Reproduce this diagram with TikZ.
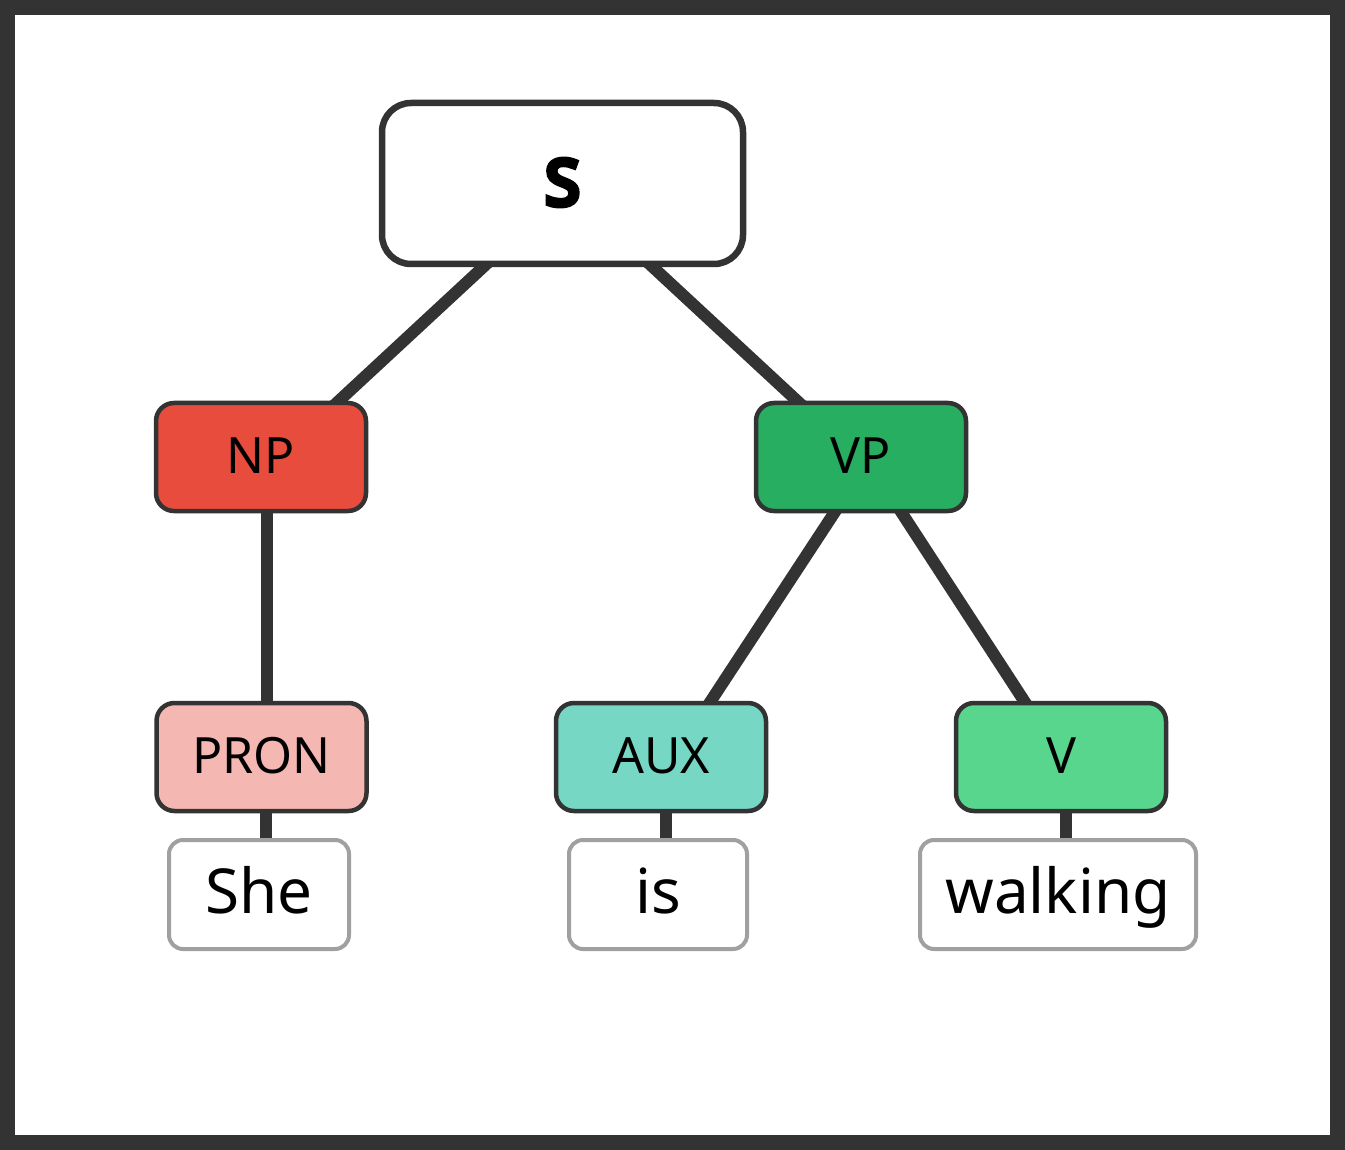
\documentclass[tikz,border=0pt]{standalone}
\usepackage{fontspec}
\setmainfont{Noto Sans}
\newfontfamily\rootfont{Noto Sans}[FakeBold=9]
\usetikzlibrary{backgrounds}
\definecolor{dark}{HTML}{333333}
\definecolor{npred}{HTML}{E74C3C}
\definecolor{vpgreen}{HTML}{27AE60}
\definecolor{pronpink}{HTML}{F5B7B1}
\definecolor{auxteal}{HTML}{76D7C4}
\definecolor{vgreen}{HTML}{58D68D}
\definecolor{leafgray}{HTML}{A0A0A0}
\tikzset{
  rootbox/.style={draw=dark, fill=white, line width=6.5pt, rounded corners=29pt,
    minimum width=361pt, minimum height=161pt, inner sep=0pt,
    font=\rootfont\fontsize{63}{70}\selectfont, text height=43pt, text depth=0pt},
  catbox/.style={draw=dark, line width=4.5pt, rounded corners=18pt,
    minimum width=210pt, minimum height=108pt, inner sep=0pt,
    font=\fontsize{50}{60}\selectfont, text height=32pt, text depth=0pt},
  leafbox/.style={draw=leafgray, fill=white, line width=4pt, rounded corners=14pt,
    minimum height=109pt, inner sep=0pt,
    font=\fontsize{62}{70}\selectfont, text height=37pt, text depth=0pt},
  link/.style={draw=dark, line width=12pt, shorten <=-10pt, shorten >=-10pt},
  frame/.style={draw=dark, line width=15pt, fill=white}
}
\begin{document}
\begin{tikzpicture}[x=1pt,y=-1pt]
\useasboundingbox (0,0) rectangle (1345,1150);

\node[rootbox] (S) at (562.5,183.5) {S};
\node[catbox, fill=npred] (NP) at (261,457) {NP};
\node[catbox, fill=vpgreen] (VP) at (861,457) {VP};
\node[catbox, fill=pronpink] (PRON) at (261.5,757) {PRON};
\node[catbox, fill=auxteal] (AUX) at (661,757) {AUX};
\node[catbox, fill=vgreen] (V) at (1061,757) {V};
\node[leafbox, minimum width=180pt] (she) at (259,894.5) {She};
\node[leafbox, minimum width=178pt] (is) at (658,894.5) {is};
\node[leafbox, minimum width=276pt] (walking) at (1058,894.5) {walking};

\begin{scope}[on background layer]
\draw[frame] (7.5,7.5) rectangle (1337.5,1142.5);
\draw[link] ([xshift=-79.5pt]S.south) -- ([xshift=78pt]NP.north);
\draw[link] ([xshift=90.5pt]S.south) -- ([xshift=-64pt]VP.north);
\draw[link] ([xshift=6pt]NP.south) -- ([xshift=6pt]NP.south |- PRON.north);
\draw[link] ([xshift=-27pt]VP.south) -- ([xshift=50pt]AUX.north);
\draw[link] ([xshift=41pt]VP.south) -- ([xshift=-37pt]V.north);
\draw[link] ([xshift=4.5pt]PRON.south) -- ([xshift=4.5pt]PRON.south |- she.north);
\draw[link] ([xshift=5pt]AUX.south) -- ([xshift=5pt]AUX.south |- is.north);
\draw[link] ([xshift=5pt]V.south) -- ([xshift=5pt]V.south |- walking.north);
\end{scope}
\end{tikzpicture}
\end{document}
